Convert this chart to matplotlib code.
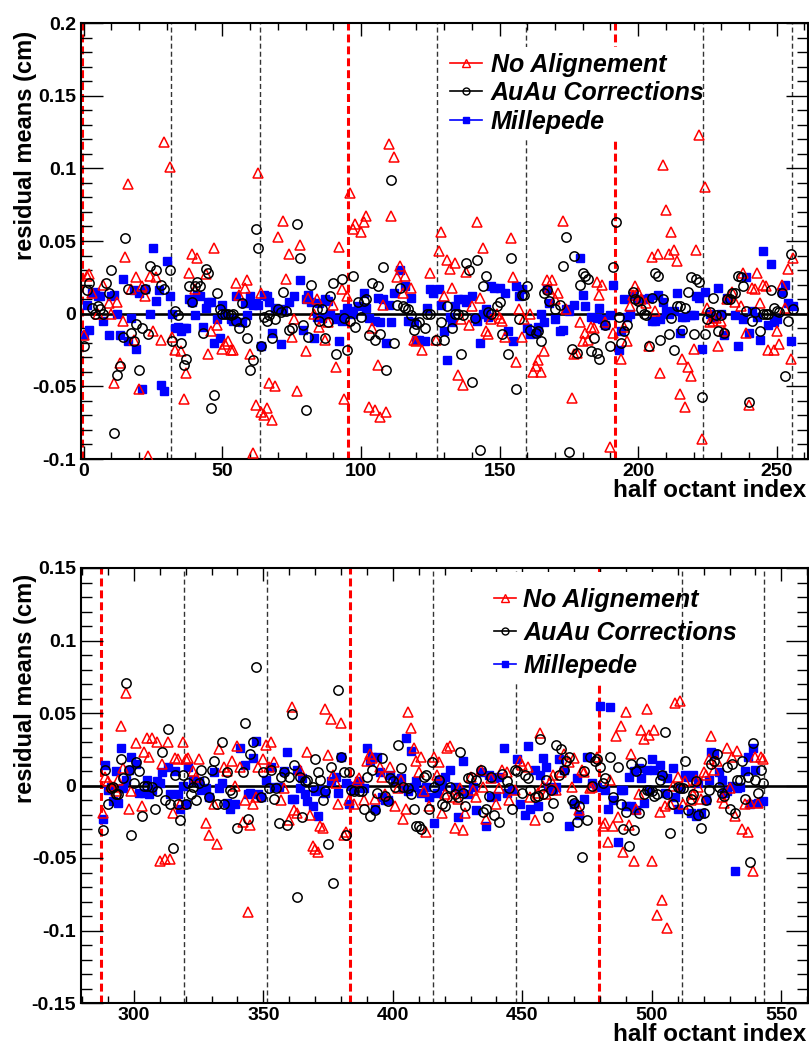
import matplotlib
matplotlib.use("Agg")
import matplotlib.pyplot as plt
from matplotlib.ticker import MultipleLocator, FuncFormatter
from matplotlib.lines import Line2D
from matplotlib.patches import Rectangle

plt.rcParams['font.family'] = ['Liberation Sans', 'DejaVu Sans']

# ---------------- data: (half octant index, residual mean in cm) ----------------
top_no_align = [
    (0,-0.015),(1,0.026),(2,0.027),(3,0.014),(5,0.000),(7,0.020),(9,0.007),(10,0.000),(11,-0.048),(12,0.008),
    (13,-0.034),(14,-0.005),(15,0.039),(16,0.089),(17,0.017),(18,-0.018),(19,0.025),(20,-0.052),(21,0.019),(22,0.012),
    (23,-0.098),(24,0.026),(25,-0.012),(26,0.025),(28,-0.018),(29,0.118),(31,0.101),(32,-0.016),(33,-0.025),(35,-0.026),
    (36,-0.059),(37,-0.041),(38,0.028),(39,0.041),(40,0.017),(41,0.038),(44,0.027),(45,-0.028),(46,-0.012),(47,0.045),
    (48,-0.008),(50,-0.024),(51,-0.021),(52,-0.019),(53,-0.025),(54,-0.025),(55,0.021),(56,0.013),(58,0.018),(59,0.023),
    (60,-0.028),(61,-0.096),(62,-0.063),(63,0.097),(64,0.014),(64,-0.068),(65,-0.070),(66,-0.065),(67,-0.048),(68,-0.073),
    (69,-0.050),(70,0.053),(72,0.064),(73,0.024),(74,0.041),(75,-0.016),(76,-0.004),(77,-0.053),(78,0.047),(80,-0.026),
    (81,0.011),(83,0.000),(84,0.010),(85,-0.009),(87,-0.018),(88,-0.006),(90,0.006),(91,-0.037),(92,0.046),(93,0.017),
    (94,-0.059),(95,0.012),(96,0.083),(97,0.058),(98,0.062),(100,0.056),(101,0.063),(102,0.067),(103,-0.064),(104,-0.010),
    (105,-0.066),(106,-0.035),(107,-0.071),(108,0.006),(109,-0.068),(110,0.117),(111,0.067),(112,0.108),(113,0.025),(114,0.033),
    (115,0.014),(116,0.026),(118,0.018),(119,-0.018),(120,-0.019),(122,-0.025),(125,0.028),(127,-0.018),(128,0.043),(129,0.056),
    (130,0.012),(131,0.037),(132,0.031),(133,0.018),(134,0.035),(135,-0.042),(136,-0.004),(137,-0.049),(138,0.029),(139,-0.008),
    (140,0.005),(142,0.063),(143,0.011),(144,0.045),(145,-0.012),(146,-0.014),(147,-0.004),(149,0.000),(150,-0.003),(151,-0.005),
    (152,-0.016),(154,0.052),(155,0.025),(156,-0.033),(157,0.003),(158,-0.016),(159,-0.004),(161,0.000),(162,-0.040),(163,-0.036),
    (164,-0.032),(165,-0.040),(166,-0.026),(167,0.023),(168,0.017),(169,0.023),(170,0.010),(171,0.014),(173,0.064),(174,0.003),
    (176,-0.058),(177,-0.028),(178,-0.027),(179,-0.006),(180,-0.019),(181,-0.013),(182,-0.018),(183,-0.009),(184,-0.010),(185,0.022),
    (186,0.013),(187,0.020),(188,-0.006),(190,-0.092),(191,-0.013),(194,-0.031),(195,-0.009),(196,-0.019),(197,0.005),(198,0.013),
    (199,0.019),(200,0.015),(201,0.010),(203,0.007),(204,-0.022),(205,0.039),(206,0.002),(207,0.041),(208,-0.041),(209,0.102),
    (210,0.071),(211,0.041),(212,0.056),(213,0.044),(214,0.036),(215,-0.055),(216,-0.031),(217,-0.064),(218,-0.037),(219,-0.043),
    (220,-0.024),(221,0.044),(222,0.123),(223,-0.086),(224,0.087),(225,0.004),(226,-0.006),(227,-0.005),(228,-0.003),(229,-0.022),
    (230,-0.005),(231,-0.012),(232,0.010),(234,0.015),(235,0.008),(237,0.005),(238,0.028),(239,-0.013),(240,-0.063),(241,0.018),
    (242,0.017),(243,0.028),(244,0.007),(245,0.020),(246,0.019),(247,-0.025),(249,-0.025),(250,-0.012),(251,-0.021),(252,0.020),
    (253,0.004),(254,0.031),(255,-0.031),(256,0.038),
]
top_auau = [
    (0,-0.022),(1,0.016),(2,0.021),(3,0.004),(4,0.000),(5,0.005),(6,0.003),(7,0.000),(8,0.021),(9,0.014),
    (10,0.030),(11,-0.082),(12,-0.042),(13,-0.036),(14,-0.016),(15,0.052),(16,0.017),(17,-0.013),(18,-0.019),(19,-0.007),
    (20,-0.039),(21,-0.010),(22,0.017),(23,-0.014),(24,0.033),(26,0.030),(28,0.020),(29,0.017),(31,0.030),(32,-0.019),
    (33,0.002),(34,-0.001),(35,-0.020),(36,-0.035),(37,-0.031),(38,0.019),(39,0.008),(40,0.019),(41,0.022),(42,0.019),
    (43,-0.013),(44,0.031),(45,0.028),(46,-0.065),(47,-0.056),(48,0.014),(49,0.003),(50,0.000),(51,0.000),(52,0.000),
    (53,-0.001),(54,0.000),(55,-0.005),(56,-0.010),(57,0.007),(58,-0.006),(59,-0.017),(60,-0.039),(61,-0.032),(62,0.058),
    (63,0.045),(64,-0.022),(65,-0.002),(66,-0.005),(67,-0.001),(68,-0.017),(69,-0.004),(70,0.003),(71,0.001),(72,0.015),
    (73,0.002),(74,-0.011),(75,-0.010),(77,0.062),(78,0.038),(79,-0.008),(80,-0.066),(81,-0.016),(82,0.020),(84,0.003),
    (85,-0.005),(86,0.003),(87,-0.017),(88,-0.006),(89,0.012),(90,0.021),(91,-0.028),(93,0.024),(94,-0.003),(95,-0.025),
    (96,-0.005),(97,0.026),(98,-0.009),(99,0.008),(100,-0.002),(101,0.009),(102,0.010),(103,-0.015),(104,0.021),(105,-0.018),
    (106,0.019),(107,-0.014),(108,0.032),(109,-0.039),(111,0.092),(112,-0.020),(113,0.006),(114,0.018),(115,0.005),(116,0.004),
    (117,0.003),(118,-0.001),(119,-0.011),(120,-0.007),(121,-0.006),(123,-0.010),(124,0.000),(125,0.000),(127,-0.018),(129,-0.006),
    (130,-0.018),(131,0.005),(133,-0.010),(134,0.000),(135,0.000),(136,-0.028),(137,-0.001),(138,0.035),(139,0.030),(140,-0.047),
    (141,-0.003),(142,0.037),(143,-0.094),(144,0.019),(145,0.026),(146,0.001),(147,0.000),(149,0.005),(150,0.008),(151,-0.014),
    (153,-0.028),(154,0.038),(156,-0.052),(157,-0.004),(158,0.013),(159,0.013),(160,0.019),(161,-0.011),(163,-0.013),(164,-0.012),
    (165,-0.019),(166,0.014),(167,0.016),(168,0.009),(170,0.003),(172,0.006),(173,0.033),(174,0.053),(175,-0.095),(176,-0.024),
    (177,0.040),(178,-0.027),(179,0.020),(180,0.028),(181,0.026),(182,0.024),(183,-0.026),(184,-0.017),(185,-0.027),(186,-0.031),
    (188,-0.008),(190,-0.022),(191,0.032),(192,0.063),(193,-0.002),(194,-0.020),(195,-0.012),(196,-0.008),(198,0.015),(199,0.010),
    (200,0.009),(201,0.003),(202,0.000),(203,-0.001),(204,-0.022),(205,0.011),(206,0.028),(207,0.026),(208,-0.018),(209,0.010),
    (211,-0.014),(212,-0.003),(213,-0.025),(214,0.005),(215,0.005),(216,-0.011),(217,0.004),(218,0.015),(219,0.025),(220,-0.014),
    (221,0.024),(222,0.022),(223,-0.057),(224,-0.014),(225,-0.004),(226,0.001),(227,0.011),(228,-0.001),(229,-0.012),(230,-0.001),
    (231,-0.013),(232,0.010),(233,0.010),(234,0.014),(235,0.014),(236,0.026),(237,0.025),(238,0.019),(239,0.002),(240,-0.061),
    (241,-0.005),(242,0.001),(244,-0.012),(245,0.000),(246,0.000),(247,0.000),(248,0.016),(249,0.004),(250,0.002),(251,0.001),
    (252,0.014),(253,-0.043),(254,-0.005),(255,0.041),(256,0.003),
]
top_millepede = [
    (0,-0.015),(1,0.006),(2,-0.011),(3,0.014),(4,0.015),(5,0.012),(6,0.012),(7,-0.005),(9,-0.015),(10,0.012),
    (11,0.013),(12,0.000),(13,-0.015),(14,0.024),(16,-0.019),(17,-0.003),(18,0.016),(19,-0.024),(20,0.014),(21,-0.052),
    (22,0.017),(24,0.000),(25,0.045),(26,0.009),(27,0.016),(28,-0.049),(29,-0.053),(30,0.036),(31,0.012),(32,0.000),
    (33,-0.010),(34,-0.009),(35,-0.012),(36,-0.010),(37,-0.010),(38,0.010),(39,0.008),(40,-0.001),(41,0.013),(42,0.012),
    (43,-0.009),(44,0.004),(45,0.008),(46,0.008),(47,-0.020),(48,-0.004),(49,-0.017),(50,0.006),(51,0.000),(53,-0.004),
    (54,-0.005),(55,0.012),(57,-0.006),(58,0.007),(59,-0.001),(60,0.012),(61,0.006),(62,0.007),(63,0.006),(64,-0.022),
    (65,0.013),(66,0.012),(67,0.008),(68,-0.013),(69,0.004),(71,-0.021),(72,0.003),(74,0.008),(76,0.012),(78,0.023),
    (79,-0.011),(80,0.010),(81,0.013),(82,0.008),(83,-0.017),(84,-0.002),(85,0.007),(86,-0.003),(87,0.010),(88,0.009),
    (89,0.000),(91,-0.004),(92,-0.019),(93,-0.005),(94,0.000),(95,0.004),(96,0.002),(97,0.000),(99,0.005),(101,0.014),
    (102,0.004),(103,-0.003),(105,-0.005),(106,0.011),(107,-0.006),(108,0.010),(109,-0.020),(110,0.006),(111,-0.006),(112,0.014),
    (114,0.030),(116,0.019),(117,-0.005),(118,0.011),(119,-0.006),(120,-0.018),(121,-0.018),(123,-0.019),(124,0.004),(125,0.017),
    (126,0.014),(128,0.017),(129,0.006),(130,-0.012),(131,-0.032),(132,-0.002),(133,-0.006),(134,0.005),(135,0.010),(137,0.010),
    (138,0.008),(140,0.012),(141,-0.003),(142,-0.005),(143,-0.020),(144,0.000),(145,0.003),(146,-0.002),(147,0.019),(148,0.018),
    (150,0.018),(152,0.014),(153,-0.012),(155,-0.019),(156,0.019),(157,0.012),(158,0.017),(160,-0.010),(161,-0.014),(163,-0.013),
    (164,-0.009),(165,0.000),(166,-0.006),(167,0.017),(168,0.007),(170,-0.004),(172,-0.012),(173,-0.011),(174,0.003),(175,0.002),
    (177,0.006),(179,0.038),(180,0.013),(181,0.005),(183,-0.002),(185,-0.003),(186,0.004),(187,-0.004),(188,-0.008),(190,-0.001),
    (191,0.020),(193,-0.025),(194,-0.012),(195,0.010),(196,-0.002),(197,0.000),(198,0.012),(200,0.010),(202,0.010),(204,0.011),
    (205,-0.005),(206,-0.005),(207,0.013),(208,-0.004),(209,0.008),(210,0.002),(211,0.000),(213,0.002),(214,0.014),(215,-0.013),
    (216,-0.002),(217,-0.002),(219,-0.001),(220,-0.001),(221,0.012),(222,0.011),(223,-0.024),(224,0.015),(226,0.000),(227,-0.003),
    (229,0.018),(230,0.000),(231,-0.015),(232,0.011),(235,-0.001),(236,-0.022),(238,-0.004),(239,0.025),(240,-0.013),(241,0.002),
    (243,-0.002),(244,-0.018),(245,0.043),(247,-0.008),(248,0.034),(249,-0.006),(250,-0.004),(252,0.015),(253,0.020),(254,0.007),
    (255,-0.019),(256,0.005),
]

bot_no_align = [
    (288,-0.019),(289,0.006),(290,0.003),(291,0.000),(292,-0.001),(293,-0.004),(294,0.004),(295,0.041),(296,0.012),(297,0.064),
    (298,-0.016),(299,-0.004),(301,0.029),(303,-0.014),(304,0.023),(305,0.033),(306,0.020),(307,0.033),(309,0.030),(310,-0.052),
    (311,0.015),(312,-0.051),(313,0.030),(314,-0.051),(315,-0.019),(316,0.019),(317,0.018),(318,-0.013),(319,0.030),(320,0.018),
    (321,0.019),(323,0.010),(324,0.006),(325,0.018),(328,-0.026),(329,-0.034),(331,-0.013),(332,-0.040),(333,0.025),(335,0.013),
    (336,0.010),(338,0.017),(339,0.000),(340,0.027),(341,0.013),(342,-0.025),(343,-0.010),(344,-0.087),(345,-0.027),(346,-0.013),
    (347,-0.008),(348,0.013),(350,0.018),(351,0.028),(352,0.013),(353,0.030),(354,0.016),(357,-0.010),(358,-0.002),(360,-0.024),
    (361,0.054),(362,-0.017),(363,-0.019),(364,0.011),(367,0.023),(368,-0.020),(369,-0.042),(370,-0.044),(371,-0.046),(372,-0.028),
    (373,-0.029),(374,0.053),(375,0.021),(376,0.046),(377,0.007),(378,0.002),(379,-0.013),(380,0.043),(381,-0.034),(382,-0.032),
    (383,-0.010),(385,-0.013),(386,0.003),(387,0.005),(389,-0.010),(390,0.017),(391,0.022),(392,0.019),(393,-0.009),(395,0.013),
    (396,0.006),(397,-0.006),(399,0.013),(401,-0.014),(402,-0.002),(403,0.004),(404,-0.023),(405,-0.016),(406,0.051),(407,0.040),
    (408,0.026),(409,0.017),(410,0.009),(411,0.020),(412,-0.004),(413,-0.032),(414,-0.014),(416,0.020),(417,0.007),(418,0.016),
    (419,-0.019),(420,-0.006),(421,0.026),(422,0.027),(423,-0.008),(424,-0.029),(425,-0.009),(426,-0.002),(427,-0.031),(428,-0.019),
    (430,0.006),(431,-0.003),(432,-0.008),(434,0.011),(435,-0.001),(436,-0.023),(438,0.005),(440,-0.013),(441,-0.002),(442,0.011),
    (444,0.009),(445,-0.010),(447,-0.003),(449,0.017),(450,0.014),(452,0.013),(453,-0.008),(455,-0.024),(456,-0.005),(457,0.036),
    (458,0.000),(459,-0.006),(461,0.004),(462,0.007),(463,-0.003),(465,0.009),(466,0.022),(468,0.016),(469,-0.001),(470,0.019),
    (472,-0.017),(473,0.011),(474,0.009),(476,-0.002),(477,-0.001),(479,0.020),(481,-0.028),(482,-0.026),(483,-0.039),(484,0.004),
    (485,-0.028),(486,0.034),(487,-0.022),(488,0.041),(489,-0.046),(490,0.051),(491,-0.027),(492,0.022),(493,-0.052),(494,-0.016),
    (495,-0.006),(496,0.038),(497,0.032),(498,0.053),(499,0.035),(500,-0.052),(501,0.038),(502,-0.089),(503,-0.018),(504,-0.079),
    (505,-0.014),(506,-0.098),(507,-0.013),(508,0.000),(509,0.057),(510,0.006),(511,0.058),(512,-0.013),(513,0.003),(515,-0.010),
    (516,-0.006),(517,0.004),(518,-0.001),(519,-0.009),(520,0.009),(521,0.007),(522,0.018),(523,0.034),(524,0.011),(525,0.017),
    (527,-0.008),(528,-0.012),(529,0.026),(530,-0.002),(531,0.020),(532,-0.021),(533,0.024),(535,-0.030),(536,-0.013),(537,-0.032),
    (538,-0.012),(539,-0.059),(540,0.020),(541,-0.012),(542,0.020),(543,0.018),
]
bot_auau = [
    (288,-0.031),(289,0.011),(290,-0.013),(291,-0.002),(292,-0.001),(293,-0.006),(294,-0.006),(295,0.018),(296,0.005),(297,0.071),
    (298,0.011),(299,-0.034),(300,0.002),(301,0.016),(302,0.010),(303,-0.021),(304,0.000),(305,0.000),(307,-0.001),(308,-0.016),
    (309,-0.004),(311,0.023),(312,-0.010),(313,0.039),(314,-0.013),(315,-0.043),(316,0.007),(317,-0.013),(318,-0.024),(319,0.007),
    (320,-0.013),(321,0.002),(322,-0.006),(323,-0.001),(324,-0.010),(325,0.002),(326,0.011),(327,0.003),(329,-0.008),(330,0.011),
    (331,0.017),(332,-0.013),(334,0.030),(335,-0.013),(336,0.009),(337,-0.003),(338,-0.005),(340,-0.029),(342,0.009),(343,0.043),
    (344,-0.023),(345,0.022),(346,0.030),(347,0.082),(349,-0.008),(350,0.009),(352,-0.002),(353,0.011),(354,-0.009),(355,-0.002),
    (356,-0.026),(357,0.006),(358,0.009),(359,-0.027),(360,0.006),(361,0.049),(362,0.014),(363,-0.077),(364,0.006),(365,-0.022),
    (366,0.003),(367,0.004),(369,-0.001),(370,0.018),(371,0.009),(372,0.004),(373,-0.010),(374,-0.004),(375,-0.040),(376,0.013),
    (377,-0.067),(379,0.066),(380,0.020),(381,0.009),(382,-0.034),(383,0.009),(384,-0.003),(385,-0.004),(387,-0.004),(388,-0.004),
    (389,-0.016),(390,0.006),(391,-0.021),(392,0.011),(393,-0.017),(394,-0.005),(396,0.019),(397,-0.007),(398,-0.011),(399,0.005),
    (400,0.003),(401,-0.001),(402,0.028),(403,0.012),(404,-0.001),(406,-0.002),(407,-0.006),(408,-0.016),(409,-0.028),(410,-0.028),
    (411,-0.030),(412,0.006),(413,0.007),(414,-0.016),(415,0.016),(416,-0.001),(418,0.004),(419,-0.013),(420,-0.014),(421,-0.008),
    (422,-0.001),(424,-0.006),(425,-0.008),(426,0.023),(427,-0.005),(428,-0.014),(429,0.005),(430,0.006),(432,0.004),(434,0.011),
    (435,-0.018),(436,-0.016),(437,-0.007),(438,0.006),(439,-0.020),(441,-0.025),(442,0.008),(444,0.003),(445,-0.002),(446,-0.016),
    (447,0.011),(448,0.010),(450,-0.005),(451,0.007),(452,0.005),(453,-0.003),(455,-0.008),(456,-0.007),(457,0.032),(458,-0.006),
    (459,0.004),(460,-0.022),(461,-0.003),(462,-0.012),(463,0.028),(464,0.007),(465,0.025),(466,0.011),(467,0.017),(468,0.020),
    (469,-0.010),(470,-0.012),(471,-0.025),(472,-0.014),(473,-0.049),(474,0.010),(475,-0.024),(476,0.020),(477,0.000),(478,0.017),
    (479,0.018),(480,0.013),(481,0.002),(482,0.005),(484,0.020),(485,-0.008),(487,0.013),(488,-0.013),(489,-0.030),(490,-0.018),
    (491,-0.042),(492,0.015),(493,-0.031),(494,0.010),(495,-0.019),(496,0.016),(497,-0.006),(498,-0.003),(499,-0.003),(500,-0.004),
    (501,-0.007),(502,-0.006),(503,0.004),(504,0.007),(505,0.037),(506,-0.006),(507,-0.033),(508,-0.013),(510,-0.001),(511,-0.002),
    (512,-0.002),(513,0.017),(514,-0.017),(515,-0.009),(516,-0.006),(517,0.003),(518,-0.020),(519,-0.029),(520,-0.019),(521,-0.010),
    (522,-0.003),(523,0.015),(524,0.017),(525,0.022),(526,-0.001),(527,-0.005),(528,-0.007),(529,0.013),(530,-0.016),(531,0.015),
    (532,-0.019),(533,0.004),(534,0.004),(535,0.017),(536,-0.009),(537,0.006),(538,-0.053),(539,0.029),(540,0.004),(541,-0.005),
    (542,0.011),(543,0.002),
]
bot_millepede = [
    (288,-0.023),(289,0.014),(290,-0.003),(291,-0.001),(292,-0.011),(293,0.010),(294,-0.012),(295,0.026),(296,-0.002),(297,0.004),
    (298,0.011),(299,0.020),(301,0.015),(302,-0.005),(304,-0.005),(305,0.004),(306,-0.006),(307,-0.003),(309,0.003),(310,0.002),
    (311,0.009),(313,0.013),(314,-0.006),(316,0.010),(317,-0.006),(318,-0.016),(319,0.000),(320,-0.013),(321,0.013),(323,0.004),
    (325,0.003),(326,-0.003),(328,-0.002),(329,-0.008),(331,0.009),(333,-0.002),(334,0.002),(336,-0.012),(337,-0.016),(339,-0.013),
    (341,0.026),(343,0.014),(344,-0.006),(345,-0.005),(346,0.019),(347,0.031),(348,-0.006),(349,-0.008),(351,0.004),(353,0.013),
    (354,-0.001),(356,-0.001),(358,0.010),(359,0.023),(361,-0.009),(362,-0.009),(363,0.011),(364,-0.002),(365,0.005),(366,-0.006),
    (367,-0.011),(369,-0.014),(370,-0.004),(371,-0.021),(372,-0.003),(374,-0.005),(376,0.003),(378,0.006),(379,-0.005),(380,0.020),
    (382,0.002),(383,-0.013),(384,0.000),(385,-0.003),(387,0.003),(389,-0.002),(390,0.026),(391,0.017),(392,0.020),(393,-0.016),
    (394,0.020),(395,0.009),(396,-0.008),(397,-0.010),(398,-0.010),(399,0.007),(401,0.004),(403,0.005),(404,-0.002),(405,0.033),
    (406,-0.004),(407,0.024),(408,-0.001),(409,0.003),(411,-0.005),(413,-0.001),(414,-0.008),(416,-0.026),(417,-0.005),(418,0.004),
    (419,0.000),(420,0.006),(422,0.011),(424,-0.001),(425,-0.022),(426,-0.004),(427,0.017),(429,-0.006),(431,-0.001),(432,-0.017),
    (434,0.009),(436,-0.028),(437,0.007),(438,-0.008),(439,0.005),(440,-0.007),(441,0.006),(443,0.026),(444,-0.005),(446,-0.003),
    (448,0.018),(449,-0.013),(451,-0.020),(452,0.027),(453,-0.016),(455,0.011),(456,-0.014),(457,0.007),(458,0.019),(459,0.013),
    (460,-0.001),(462,-0.003),(463,-0.001),(464,0.018),(466,0.011),(468,-0.028),(470,-0.013),(471,0.005),(472,-0.020),(474,-0.009),
    (475,0.020),(477,0.002),(479,-0.001),(480,0.055),(482,-0.003),(483,-0.016),(484,0.054),(485,-0.010),(487,-0.039),(488,-0.003),
    (489,-0.003),(490,-0.014),(491,0.006),(492,-0.014),(493,0.010),(494,-0.017),(495,0.012),(496,0.005),(497,-0.012),(498,0.011),
    (499,-0.003),(500,0.018),(501,0.011),(503,0.014),(504,0.007),(505,-0.005),(506,0.005),(508,0.012),(509,-0.008),(510,-0.016),
    (511,-0.002),(513,0.007),(514,0.006),(515,-0.019),(516,0.007),(517,-0.021),(518,0.002),(519,-0.019),(521,-0.010),(522,0.004),
    (523,0.023),(524,0.022),(526,0.009),(527,0.004),(528,-0.005),(529,-0.004),(531,0.000),(532,-0.059),(533,-0.002),(534,-0.001),
    (536,0.010),(537,0.020),(538,-0.013),(539,0.026),(540,0.011),(541,-0.012),(543,-0.011),
]

series_labels = ["No Alignement", "AuAu Corrections", "Millepede"]
top_red_lines = [-0.5, 95.5, 191.5]
top_black_lines = [31.5, 63.5, 127.5, 159.5, 223.5, 255.5]
bot_red_lines = [287.5, 383.5, 479.5]
bot_black_lines = [319.5, 351.5, 415.5, 447.5, 511.5, 543.5]

# ---------------- figure ----------------
W, H = 809, 1048
fig = plt.figure(figsize=(W / 100, H / 100), dpi=100)

def px_axes(l, t, r, b):
    return fig.add_axes([l / W, 1 - b / H, (r - l) / W, (b - t) / H])

ax_top = px_axes(81, 23, 808, 459)
ax_bot = px_axes(81, 568, 808, 1003)

fmt = FuncFormatter(lambda v, p: ("%g" % round(v, 4)) if abs(v) > 1e-9 else "0")

def style_panel(ax, xlim, ylim, red_lines, black_lines, data, legend_cfg, box):
    ax.set_xlim(*xlim)
    ax.set_ylim(*ylim)
    for xv in black_lines:
        ax.axvline(xv, color='#333333', lw=1.0, dashes=(3.6, 2.2), zorder=1)
    for xv in red_lines:
        ax.axvline(xv, color='#ff0000', lw=2.2, dashes=(2.6, 1.3), zorder=1)
    ax.axhline(0, color='black', lw=1.9, zorder=1.5)

    na, au, mp = data
    ax.plot([p[0] for p in mp], [p[1] for p in mp], ls='none', marker='s', ms=6.0,
            mfc='#0000ff', mec='#0000ff', zorder=3)
    ax.plot([p[0] for p in na], [p[1] for p in na], ls='none', marker='^', ms=7.8,
            mfc='none', mec='#ff0000', mew=1.1, zorder=3.2)
    ax.plot([p[0] for p in au], [p[1] for p in au], ls='none', marker='o', ms=6.7,
            mfc='none', mec='black', mew=1.1, zorder=3.4)

    # white legend pad (covers the dashed lines like the original)
    ax.add_patch(Rectangle((box[0], box[1]), box[2] - box[0], box[3] - box[1],
                           transform=ax.transAxes, facecolor='white', edgecolor='none',
                           zorder=4))
    handles = [
        Line2D([], [], color='#ff0000', lw=1.2, marker='^', ms=6, mfc='none', mec='#ff0000', mew=1.0),
        Line2D([], [], color='black', lw=1.2, marker='o', ms=5, mfc='none', mec='black', mew=1.0),
        Line2D([], [], color='#0000ff', lw=1.2, marker='s', ms=4.5, mfc='#0000ff', mec='#0000ff'),
    ]
    leg = ax.legend(handles, series_labels, loc='upper left',
                    bbox_to_anchor=legend_cfg['anchor'], frameon=False,
                    prop=dict(family='Liberation Sans', weight='bold', style='italic', size=18),
                    handlelength=legend_cfg['hl'], handletextpad=legend_cfg['htp'],
                    labelspacing=legend_cfg['ls'], borderpad=0, borderaxespad=0)
    leg.set_zorder(5)

    ax.xaxis.set_major_locator(MultipleLocator(50))
    ax.xaxis.set_minor_locator(MultipleLocator(10))
    ax.yaxis.set_major_locator(MultipleLocator(0.05))
    ax.yaxis.set_minor_locator(MultipleLocator(0.01))
    ax.yaxis.set_major_formatter(fmt)
    ax.tick_params(which='both', direction='in', top=True, right=True, width=1.0, color='black')
    ax.tick_params(axis='y', which='major', length=15.5, pad=3.5)
    ax.tick_params(axis='y', which='minor', length=8)
    ax.tick_params(axis='x', which='major', length=9.4, pad=3)
    ax.tick_params(axis='x', which='minor', length=4.7)
    for lab in ax.get_xticklabels() + ax.get_yticklabels():
        lab.set_fontweight('bold')
        lab.set_fontsize(14)
    for s in ax.spines.values():
        s.set_linewidth(1.5)

    ax.text(-0.077, legend_cfg['ylab_y'], "residual means (cm)", transform=ax.transAxes,
            rotation=90, ha='center', va='center', fontsize=17, fontweight='bold')
    ax.text(0.997, -0.073, "half octant index", transform=ax.transAxes,
            ha='right', va='center', fontsize=17.5, fontweight='bold')

style_panel(ax_top, (-1.0, 261.3), (-0.1, 0.2), top_red_lines, top_black_lines,
            (top_no_align, top_auau, top_millepede),
            dict(anchor=(0.508, 0.932), hl=1.25, htp=0.36, ls=0.18, ylab_y=0.72),
            (0.50, 0.735, 0.835, 0.945))
style_panel(ax_bot, (279.6, 560.3), (-0.15, 0.15), bot_red_lines, bot_black_lines,
            (bot_no_align, bot_auau, bot_millepede),
            dict(anchor=(0.568, 0.955), hl=0.9, htp=0.28, ls=0.36, ylab_y=0.722),
            (0.535, 0.738, 0.81, 0.99))

fig.savefig("out.png", dpi=100)
